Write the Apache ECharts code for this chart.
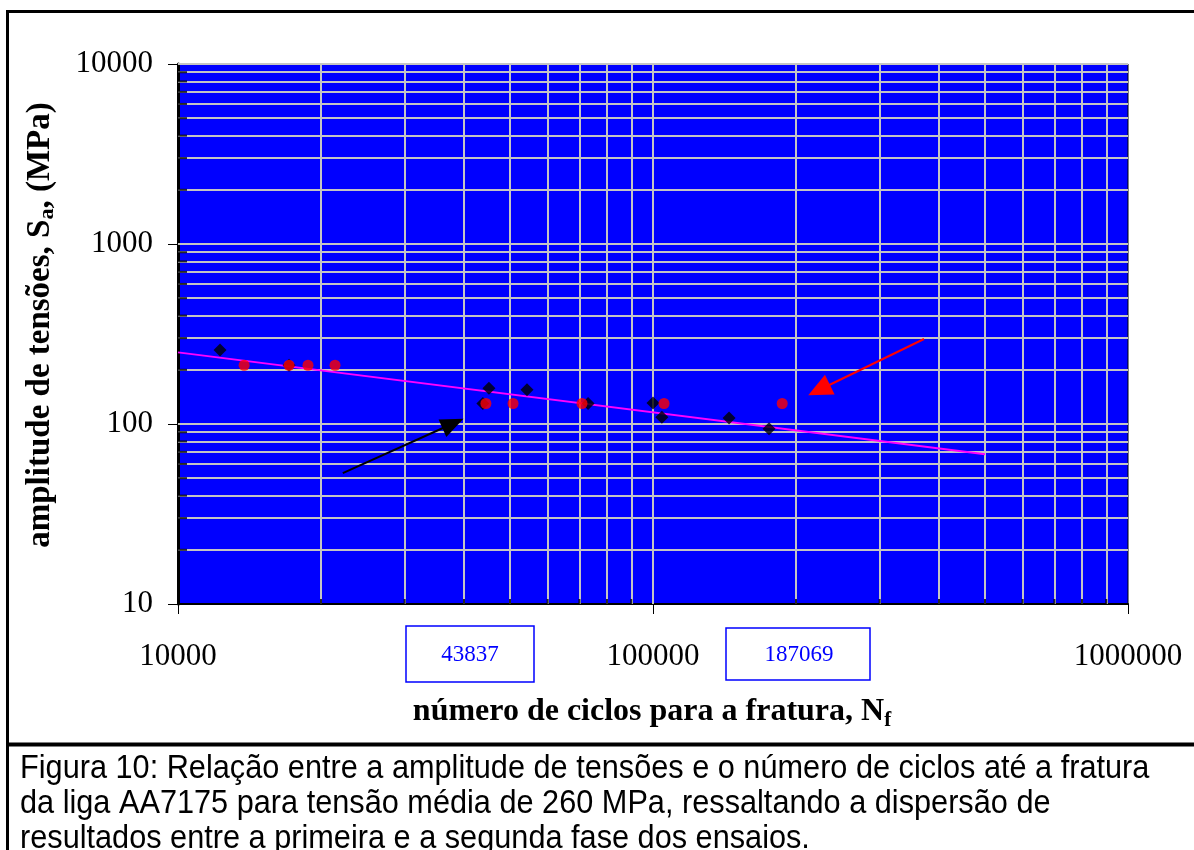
<!DOCTYPE html>
<html>
<head>
<meta charset="utf-8">
<script src="https://cdn.jsdelivr.net/npm/echarts@6/dist/echarts.min.js"></script>
<style>
html,body{margin:0;padding:0;background:#fff;}
#chart{width:1194px;height:850px;}
</style>
</head>
<body>
<div id="chart"></div>
<script>
// ---- data ----
const blackX = [12260, 17130, 43837, 45140, 54290, 73000, 100000, 104400, 144600, 175500];
const blackY = [258, 212, 130, 158, 155, 130, 131, 109, 108, 94];
const redX = [13780, 17130, 18780, 21410, 44490, 50740, 70880, 105500, 187069];
const redY = [212, 212, 212, 212, 130, 130, 130, 130, 130];
const trendX = [10000, 500000];
const trendY = [250, 68];
const blackArrow = [[22230, 53.4], [37920, 100.6]];
const redArrow = [[372000, 296.6], [223600, 154.5]];
const xTickLabels = ['10000', '100000', '1000000'];
const yTickLabels = ['10', '100', '1000', '10000'];
const boxLabels = ['43837', '187069'];
const captionLines = [
  'Figura 10: Relação entre a amplitude de tensões e o número de ciclos até a fratura',
  'da liga AA7175 para tensão média de 260 MPa, ressaltando a dispersão de',
  'resultados entre a primeira e a segunda fase dos ensaios.'
];

// ---- gridline positions (log decades 2..9) ----
function minors(a, b) { const r = []; for (let d = a; d < b; d *= 10) for (let k = 2; k <= 9; k++) r.push(k * d); return r; }
function majors(a, b) { const r = []; for (let d = a; d <= b; d *= 10) r.push(d); return r; }
const xMinor = minors(10000, 1000000), yMinor = minors(10, 10000);
const xGrid = xMinor.concat(majors(100000, 100000));
const yGrid = yMinor.concat(majors(100, 10000));

const serif = 'Liberation Serif';
const chart = echarts.init(document.getElementById('chart'), null, {renderer: 'canvas'});
const lbl = v => { const s = String(Math.round(v)); return (xTickLabels.includes(s) || yTickLabels.includes(s)) ? s : ''; };

chart.setOption({
  animation: false,
  backgroundColor: '#ffffff',
  grid: {left: 178, top: 64, right: 66, bottom: 246, show: true, backgroundColor: '#0000ff', borderColor: '#000', borderWidth: 1},
  xAxis: {
    type: 'log', logBase: 10, min: 10000, max: 1000000,
    axisLine: {show: true, lineStyle: {color: '#000', width: 2}},
    axisTick: {show: true, length: 10, lineStyle: {color: '#000', width: 1}},
    axisLabel: {formatter: lbl, color: '#000', fontFamily: serif, fontSize: 31, margin: 37, showMinLabel: true, showMaxLabel: true},
    splitLine: {show: false}
  },
  yAxis: {
    type: 'log', logBase: 10, min: 10, max: 10000,
    axisLine: {show: true, lineStyle: {color: '#000', width: 3}},
    axisTick: {show: true, length: 10, lineStyle: {color: '#000', width: 1}},
    axisLabel: {formatter: lbl, color: '#000', fontFamily: serif, fontSize: 31, margin: 25},
    splitLine: {show: false}
  },
  series: [
    {
      type: 'line', name: 'grid', data: [], silent: true,
      markLine: {
        silent: true, symbol: 'none', z: 1, animation: false,
        label: {show: false},
        lineStyle: {color: '#c4c4c4', width: 2, type: 'solid'},
        data: xGrid.map(v => ({xAxis: v})).concat(yGrid.map(v => ({yAxis: v})))
      }
    },
    {
      type: 'scatter', name: 'yticks', silent: true, clip: false, z: 3,
      symbol: 'rect', symbolSize: [9, 2], symbolOffset: [4.5, 0],
      itemStyle: {color: '#000'},
      data: yMinor.map(v => [10000, v])
    },
    {
      type: 'scatter', name: 'xticks', silent: true, clip: false, z: 3,
      symbol: 'rect', symbolSize: [2, 5], symbolOffset: [0, -2.5],
      itemStyle: {color: '#000'},
      data: xMinor.map(v => [v, 10])
    },
    {
      type: 'line', name: 'trend', z: 4, symbol: 'none',
      lineStyle: {color: '#ff00ff', width: 2},
      data: trendX.map((x, i) => [x, trendY[i]])
    },
    {
      type: 'scatter', name: 'fase1', z: 5,
      symbol: 'diamond', symbolSize: [13, 13],
      itemStyle: {color: '#000'},
      data: blackX.map((x, i) => [x, blackY[i]])
    },
    {
      type: 'scatter', name: 'fase2', z: 6,
      symbol: 'circle', symbolSize: 11,
      itemStyle: {color: '#ff0000'},
      data: redX.map((x, i) => [x, redY[i]])
    },
    {
      type: 'line', name: 'arrows', data: [], silent: true,
      markLine: {
        silent: true, z: 7, animation: false,
        label: {show: false},
        symbol: ['none', 'triangle'],
        lineStyle: {type: 'solid', width: 2},
        data: [
          [{coord: blackArrow[0], lineStyle: {color: '#000', width: 2, type: 'solid'}, itemStyle: {color: '#000'}},
           {coord: blackArrow[1], symbolSize: [19, 23], symbolRotate: -66}],
          [{coord: redArrow[0], lineStyle: {color: '#ff0000', width: 2, type: 'solid'}, itemStyle: {color: '#ff0000'}},
           {coord: redArrow[1], symbolSize: [22, 24], symbolRotate: 116}]
        ]
      }
    }
  ],
  graphic: [
    // outer frame
    {type: 'line', shape: {x1: 7.5, y1: 10, x2: 7.5, y2: 850}, style: {stroke: '#000', lineWidth: 3}},
    {type: 'line', shape: {x1: 6, y1: 11.5, x2: 1194, y2: 11.5}, style: {stroke: '#000', lineWidth: 3}},
    {type: 'line', shape: {x1: 6, y1: 744.5, x2: 1194, y2: 744.5}, style: {stroke: '#000', lineWidth: 4}},
    // value boxes
    {type: 'rect', shape: {x: 406, y: 626, width: 128, height: 56}, style: {fill: '#fff', stroke: '#0000ff', lineWidth: 1.5}},
    {type: 'text', x: 470, y: 655, style: {text: boxLabels[0], fill: '#0000ff', font: '23px "Liberation Serif"', textAlign: 'center', textVerticalAlign: 'middle'}},
    {type: 'rect', shape: {x: 726, y: 628, width: 144, height: 52}, style: {fill: '#fff', stroke: '#0000ff', lineWidth: 1.5}},
    {type: 'text', x: 799, y: 655, style: {text: boxLabels[1], fill: '#0000ff', font: '23px "Liberation Serif"', textAlign: 'center', textVerticalAlign: 'middle'}},
    // axis titles
    {type: 'text', x: 652, y: 712, style: {
      text: 'número de ciclos para a fratura, N{sub|f}',
      fill: '#000', fontFamily: serif, fontWeight: 'bold', fontSize: 32,
      textAlign: 'center', textVerticalAlign: 'middle',
      rich: {sub: {fontFamily: serif, fontWeight: 'bold', fontSize: 21, verticalAlign: 'bottom', padding: [18, 0, 0, 0], fill: '#000'}}
    }},
    {type: 'text', x: 40, y: 325, rotation: Math.PI / 2, style: {
      text: 'amplitude de tensões, S{sub|a}, (MPa)',
      fill: '#000', fontFamily: serif, fontWeight: 'bold', fontSize: 33,
      textAlign: 'center', textVerticalAlign: 'middle',
      rich: {sub: {fontFamily: serif, fontWeight: 'bold', fontSize: 22, verticalAlign: 'bottom', padding: [14, 0, 0, 0], fill: '#000'}}
    }},
    // caption
    {type: 'group', x: 20, y: 0, scaleX: 0.93, children: captionLines.map((t, i) => ({
      type: 'text', x: 0, y: 769 + i * 35,
      style: {text: t, fill: '#000', fontFamily: 'Liberation Sans', fontSize: 33, textVerticalAlign: 'middle'}
    }))}
  ]
});
</script>
</body>
</html>
